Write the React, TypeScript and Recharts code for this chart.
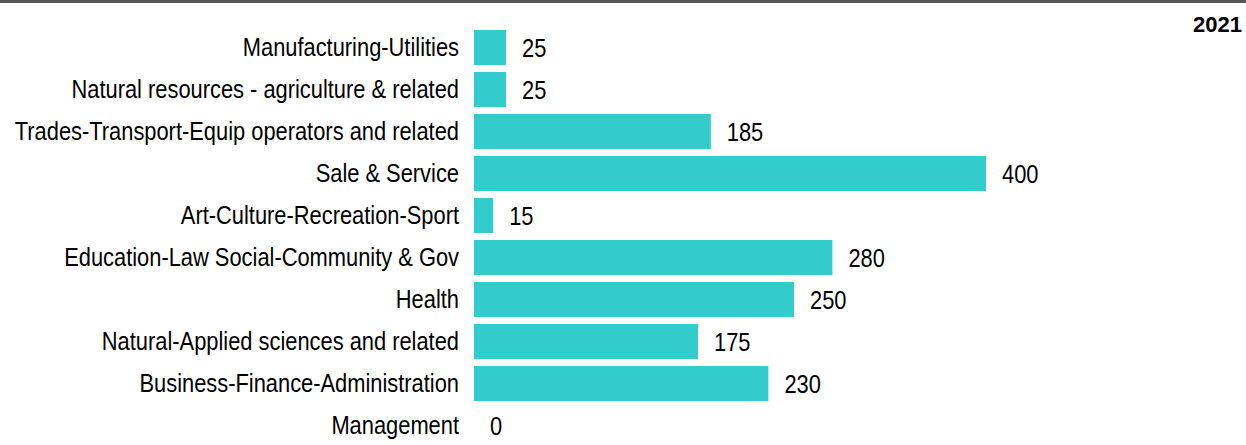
import { BarChart, Bar, XAxis, YAxis, LabelList } from "recharts"

const categories = [
  "Manufacturing-Utilities",
  "Natural resources - agriculture & related",
  "Trades-Transport-Equip operators and related",
  "Sale & Service",
  "Art-Culture-Recreation-Sport",
  "Education-Law Social-Community & Gov",
  "Health",
  "Natural-Applied sciences and related",
  "Business-Finance-Administration",
  "Management",
]

const values2021 = [25, 25, 185, 400, 15, 280, 250, 175, 230, 0]

const data = categories.map((name, i) => ({ name, value: values2021[i] }))

const FONT = "'Liberation Sans', Arial, sans-serif"

const CategoryTick = (props: any) => {
  const { x, y, payload } = props
  return (
    <g transform={`translate(${x},${y}) scale(0.875,1)`}>
      <text x={0} y={0} dy="0.36em" textAnchor="end" fontFamily={FONT} fontSize={25} fill="#000">
        {payload.value}
      </text>
    </g>
  )
}

const ValueLabel = (props: any) => {
  const { x, y, width, height, value } = props
  return (
    <g transform={`translate(${x + (width || 0) + 16},${y + height / 2}) scale(0.875,1)`}>
      <text x={0} y={0} dy="0.36em" textAnchor="start" fontFamily={FONT} fontSize={25} fill="#000">
        {value}
      </text>
    </g>
  )
}

export default function App() {
  return (
    <div
      style={{
        position: "absolute",
        left: 0,
        top: 0,
        width: 1246,
        height: 445,
        overflow: "hidden",
        background: "#fff",
      }}
    >
      <div style={{ position: "absolute", left: 0, top: 0, width: 1246, height: 3, background: "#595959" }} />
      <div
        style={{
          position: "absolute",
          right: 4,
          top: 12,
          fontFamily: FONT,
          fontWeight: "bold",
          fontSize: 22,
          color: "#000",
        }}
      >
        2021
      </div>
      <BarChart
        width={1246}
        height={460}
        data={data}
        layout="vertical"
        margin={{ top: 26, right: 260, bottom: 14, left: 0 }}
      >
        <XAxis type="number" domain={[0, 400]} hide />
        <YAxis
          type="category"
          dataKey="name"
          width={474}
          axisLine={false}
          tickLine={false}
          tickSize={0}
          tickMargin={15}
          interval={0}
          tick={<CategoryTick />}
        />
        <Bar dataKey="value" fill="#33CCCC" barSize={35} minPointSize={0.01} isAnimationActive={false}>
          <LabelList dataKey="value" content={<ValueLabel />} />
        </Bar>
      </BarChart>
    </div>
  )
}
